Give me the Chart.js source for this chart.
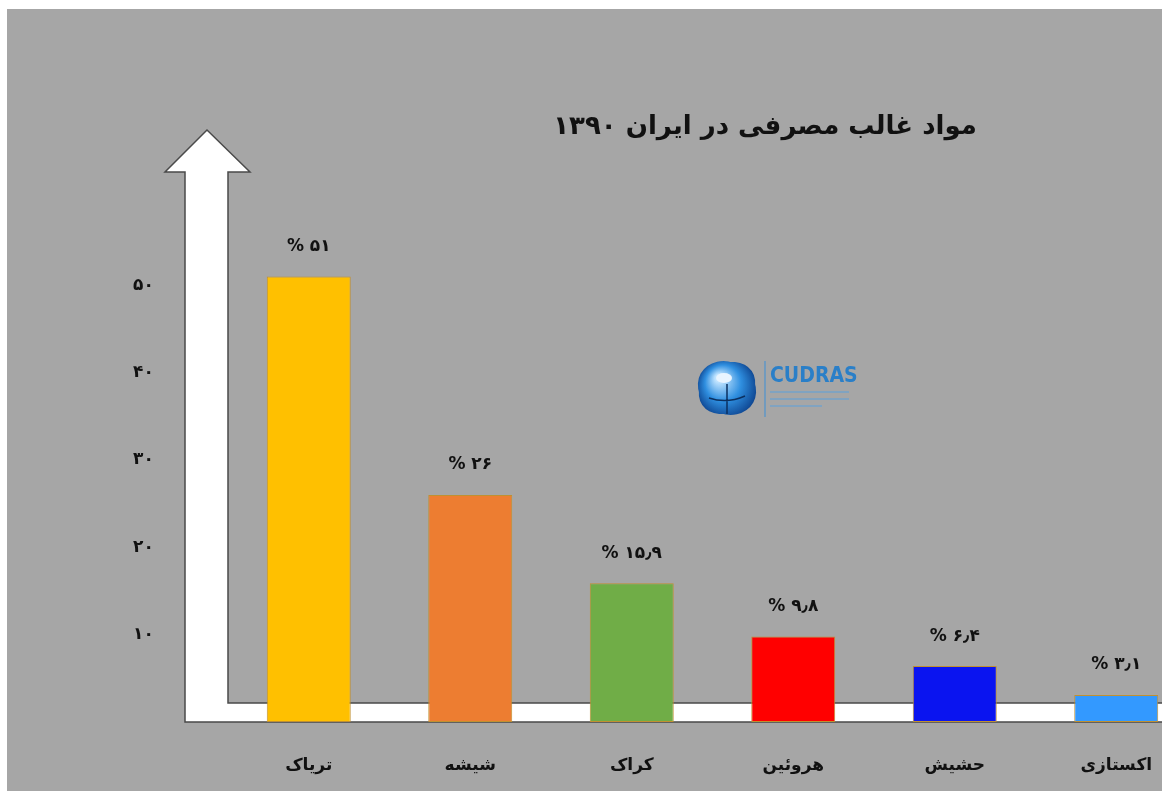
<!DOCTYPE html>
<html>
<head>
<meta charset="utf-8">
<script src="https://cdn.jsdelivr.net/npm/chart.js@4.4.1/dist/chart.umd.min.js"></script>
<style>
  html, body { margin: 0; background: #ffffff; overflow: hidden; width: 1162px; height: 791px; }
  #wrap { position: absolute; left: 7px; top: 9px; }
  canvas { background: #a6a6a6; display: block; }
</style>
</head>
<body>
<div id="wrap"><canvas id="drugs-chart" width="1190" height="782"></canvas></div>
<script>
const titleText = 'مواد غالب مصرفی در ایران ۱۳۹۰';
const categories = ['تریاک', 'شیشه', 'کراک', 'هروئین', 'حشیش', 'اکستازی'];
const values = [51, 26, 15.9, 9.8, 6.4, 3.1];
const valueLabels = ['% ۵۱', '% ۲۶', '% ۱۵٫۹', '% ۹٫۸', '% ۶٫۴', '% ۳٫۱'];
const tickValues = [10, 20, 30, 40, 50];
const tickLabels = ['۱۰', '۲۰', '۳۰', '۴۰', '۵۰'];
const barColors = ['#ffc000', '#ed7d31', '#70ad47', '#ff0000', '#0a14f0', '#3399ff'];

const persianFont = '"DejaVu Sans", sans-serif';

// white arrow axis + white baseline behind the bars
const arrowAxisPlugin = {
    id: 'arrowAxis',
    beforeDatasetsDraw(chart) {
        const { ctx, chartArea } = chart;
        const l = chartArea.left, t = chartArea.top, b = chartArea.bottom;
        const right = chart.width + 5;
        ctx.save();
        ctx.beginPath();
        ctx.moveTo(l - 43, b);
        ctx.lineTo(l - 43, t - 26);
        ctx.lineTo(l - 63, t - 26);
        ctx.lineTo(l - 21, t - 68);
        ctx.lineTo(l + 22, t - 26);
        ctx.lineTo(l, t - 26);
        ctx.lineTo(l, b - 19);
        ctx.lineTo(right, b - 19);
        ctx.lineTo(right, b);
        ctx.closePath();
        ctx.fillStyle = '#ffffff';
        ctx.fill();
        ctx.lineWidth = 1.5;
        ctx.strokeStyle = '#4a4a4a';
        ctx.stroke();
        ctx.restore();
    }
};

const decorPlugin = {
    id: 'decor',
    afterDatasetsDraw(chart) {
        const { ctx } = chart;
        ctx.save();
        // title
        ctx.direction = 'rtl';
        ctx.textAlign = 'center';
        ctx.textBaseline = 'middle';
        ctx.fillStyle = '#111111';
        ctx.font = 'bold 26px ' + persianFont;
        ctx.fillText(titleText, 758, 118);

        // value labels above bars
        ctx.direction = 'ltr';
        ctx.font = 'bold 17px ' + persianFont;
        chart.getDatasetMeta(0).data.forEach((bar, i) => {
            ctx.fillText(valueLabels[i], bar.x, bar.y - 30);
        });

        // CUDRAS logo
        const cx = 720, cy = 379;
        const g = ctx.createRadialGradient(cx - 8, cy - 10, 4, cx, cy, 32);
        g.addColorStop(0, '#bfe3ff');
        g.addColorStop(0.5, '#2f8fe0');
        g.addColorStop(1, '#0b3f8a');
        ctx.fillStyle = g;
        ctx.beginPath();
        ctx.ellipse(cx, cy, 30, 26, 0.5, 0, Math.PI * 2);
        ctx.fill();
        ctx.beginPath();
        ctx.ellipse(cx, cy, 30, 24, -0.6, 0, Math.PI * 2);
        ctx.fill();
        ctx.strokeStyle = '#0b3060';
        ctx.lineWidth = 1.5;
        ctx.beginPath();
        ctx.moveTo(cx, cy - 4); ctx.lineTo(cx, cy + 26);
        ctx.moveTo(cx - 18, cy + 10); ctx.quadraticCurveTo(cx, cy + 16, cx + 18, cy + 8);
        ctx.stroke();
        ctx.fillStyle = '#e8f4ff';
        ctx.beginPath();
        ctx.ellipse(cx - 3, cy - 10, 8, 5, 0, 0, Math.PI * 2);
        ctx.fill();

        ctx.strokeStyle = '#3c8fd6';
        ctx.lineWidth = 1;
        ctx.beginPath();
        ctx.moveTo(758, 352); ctx.lineTo(758, 408);
        ctx.stroke();
        ctx.textAlign = 'left';
        ctx.fillStyle = '#2a7fc8';
        ctx.font = 'bold 21px "DejaVu Sans Condensed", "DejaVu Sans", sans-serif';
        ctx.fillText('CUDRAS', 763, 368);
        ctx.strokeStyle = '#5aa0dc';
        ctx.beginPath();
        ctx.moveTo(763, 383); ctx.lineTo(842, 383);
        ctx.moveTo(763, 390); ctx.lineTo(842, 390);
        ctx.moveTo(763, 397); ctx.lineTo(815, 397);
        ctx.stroke();
        ctx.restore();
    }
};

const drugsChart = new Chart(document.getElementById('drugs-chart'), {
    type: 'bar',
    data: {
        labels: categories,
        datasets: [{
            data: values,
            backgroundColor: barColors,
            borderColor: '#c09030',
            borderWidth: 1,
            borderSkipped: false,
            barPercentage: 0.52,
            categoryPercentage: 1.0
        }]
    },
    options: {
        responsive: false,
        animation: false,
        layout: {
            padding: { left: 126, right: 0, top: 189, bottom: 9 }
        },
        plugins: {
            legend: { display: false },
            tooltip: { enabled: false },
            title: { display: false }
        },
        scales: {
            x: {
                afterFit(axis) { axis.height = 60; },
                grid: { display: false, drawTicks: false },
                border: { display: false },
                ticks: {
                    padding: 33,
                    color: '#111111',
                    font: { family: persianFont, size: 17, weight: 'bold' }
                }
            },
            y: {
                min: 0,
                max: 60,
                afterFit(axis) { axis.width = 95; },
                afterBuildTicks(axis) {
                    axis.ticks = tickValues.map(v => ({ value: v }));
                },
                grid: { display: false, drawTicks: false },
                border: { display: false },
                ticks: {
                    padding: 0,
                    crossAlign: 'far',
                    color: '#111111',
                    font: { family: persianFont, size: 17, weight: 'bold' },
                    callback: (v) => tickLabels[tickValues.indexOf(v)]
                }
            }
        }
    },
    plugins: [arrowAxisPlugin, decorPlugin]
});
</script>
</body>
</html>
